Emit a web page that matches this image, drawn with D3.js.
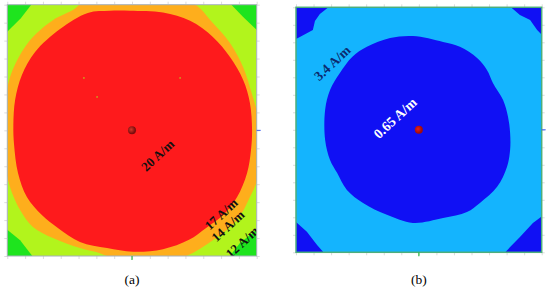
<!DOCTYPE html>
<html>
<head>
<meta charset="utf-8">
<script src="https://cdn.jsdelivr.net/npm/d3@7"></script>
<style>
  body { margin: 0; background: #fff; }
  .lbl { font-family: "Liberation Serif", "DejaVu Serif", serif; font-weight: bold; }
  .cap { font-family: "Liberation Serif", "DejaVu Serif", serif; font-size: 13.5px; }
</style>
</head>
<body>
<div id="chart"></div>
<script>
// field maps, coordinates in cm (-35..35)

// (a) contour 20 A/m (red zone edge)
var redZone = [[-0.6,33.3],[8.7,32.8],[16.3,30.5],[22.7,26.0],[27.5,20.4],[31.2,14.0],[33.1,7.6],[33.7,0.1],
  [33.4,-5.5],[32.3,-11.9],[29.5,-18.6],[25.6,-23.6],[20.8,-27.2],[16.0,-30.5],[8.7,-33.1],[0.3,-33.8],
  [-7.0,-32.8],[-14.6,-31.1],[-20.8,-27.2],[-25.3,-23.6],[-29.5,-18.6],[-32.0,-11.9],[-33.1,-4.0],[-33.3,1.5],
  [-32.8,8.5],[-30.9,15.4],[-27.2,21.8],[-20.2,28.2],[-12.4,32.7],[-6.2,33.3]];

// (a) contour 17 A/m (orange zone edge)
var orangeZone = [[-13.8,35.4],[2.2,36.0],[16.8,35.5],[22.7,29.9],[27.5,24.3],[31.2,17.6],[33.7,10.0],[35.6,2.9],
  [35.9,-5.5],[35.4,-13.0],[33.1,-18.6],[29.5,-25.0],[22.7,-30.6],[13.5,-35.6],[2.2,-36.1],[-5.3,-35.6],
  [-9.0,-34.2],[-14.6,-32.8],[-22.2,-30.0],[-27.8,-26.9],[-31.4,-22.2],[-34.8,-13.8],[-35.9,-2.7],[-35.4,8.5],
  [-34.2,14.9],[-30.6,22.4],[-26.7,27.1],[-22.2,30.7],[-16.6,33.5]];

// (a) corners below 12 A/m
var greenCorners = [
  [[-36,36],[-27.5,36],[-31.2,31.2],[-36,26.5]],
  [[26.9,36],[31.2,31.6],[36,27],[36,36]],
  [[-36,-26.9],[-31.4,-30.6],[-27.2,-36],[-36,-36]],
  [[36,-26.9],[30.3,-31.4],[26.7,-36],[36,-36]]
];

// (a) small specks
var specks = [[-13.5,14.6],[-9.8,9.3],[13.5,14.6]];

// (b) contour 0.65 A/m (inner dark zone)
var innerZone = [[-1.7,26.8],[6.9,25.1],[11.7,23.7],[16.6,20.5],[19.4,17.1],[21.1,13.4],[24.0,8.5],[25.4,3.7],
  [26.0,-0.9],[26.0,-5.8],[25.1,-10.6],[22.3,-16.3],[17.4,-20.9],[13.7,-23.5],[6.9,-25.2],[-1.7,-26.6],
  [-9.1,-24.3],[-15.9,-20.9],[-20.5,-17.2],[-23.3,-12.3],[-25.3,-8.6],[-26.7,-2.9],[-26.7,5.7],[-25.3,11.4],
  [-22.5,16.2],[-19.0,20.8],[-14.8,23.7],[-8.2,26.2]];

// (b) corners
var blueCorners = [
  [[-36,36],[-24.5,36],[-28.2,33.1],[-29.6,31.1],[-30.2,28.5],[-33.9,26.5],[-36,25.5]],
  [[25.1,36],[28.8,32.8],[31.7,31.4],[33.7,28.5],[36,26.2],[36,36]],
  [[36,-24.0],[32.5,-26.6],[28.8,-30.6],[26.0,-33.5],[23.7,-36],[36,-36]],
  [[-36,-25.5],[-31.9,-29.1],[-29.0,-32.9],[-26.3,-36],[-36,-36]]
];

var labelsA = [
  {text: "20 A/m", x: 7.2, y: -6.9},
  {text: "17 A/m", x: 25.0, y: -23.3},
  {text: "14 A/m", x: 26.9, y: -26.6},
  {text: "12 A/m", x: 30.9, y: -31.1}
];
var labelsB = [
  {text: "3.4 A/m", x: -24.7, y: 19.1},
  {text: "0.65 A/m", x: -6.8, y: 3.4}
];
var tickVals = d3.range(-35, 36, 5);

var svgWidth = 550, svgHeight = 290;
var svg = d3.select("#chart").append("svg")
    .attr("width", svgWidth)
    .attr("height", svgHeight);

var defs = svg.append("defs");
var grad = defs.append("radialGradient").attr("id", "dot").attr("cx", "40%").attr("cy", "40%");
grad.append("stop").attr("offset", "0%").attr("stop-color", "#d23a2a");
grad.append("stop").attr("offset", "100%").attr("stop-color", "#7a0d0d");
var gradB = defs.append("radialGradient").attr("id", "dotB").attr("cx", "40%").attr("cy", "40%");
gradB.append("stop").attr("offset", "0%").attr("stop-color", "#e82020");
gradB.append("stop").attr("offset", "100%").attr("stop-color", "#a00d0d");

var smooth = d3.curveCatmullRomClosed.alpha(0.5);

function panel(id, box, bg, border, borderW) {
  var x = d3.scaleLinear().domain([-35, 35]).range([box.x0, box.x1]);
  var y = d3.scaleLinear().domain([-35, 35]).range([box.y1, box.y0]);
  defs.append("clipPath").attr("id", "clip-" + id)
    .append("rect")
    .attr("x", box.x0).attr("y", box.y0)
    .attr("width", box.x1 - box.x0).attr("height", box.y1 - box.y0);
  var g = svg.append("g");
  var field = g.append("g").attr("clip-path", "url(#clip-" + id + ")");
  field.append("rect")
    .attr("x", box.x0).attr("y", box.y0)
    .attr("width", box.x1 - box.x0).attr("height", box.y1 - box.y0)
    .attr("fill", bg);

  // faint ticks all round
  var tk = function(ax) { return ax.tickValues(tickVals).tickSize(3).tickFormat(""); };
  var axes = [
    [d3.axisBottom(x), `translate(0,${box.y1})`],
    [d3.axisLeft(y), `translate(${box.x0},0)`],
    [d3.axisRight(y), `translate(${box.x1},0)`],
    [d3.axisTop(x), `translate(0,${box.y0})`]
  ];
  axes.forEach(function(a) {
    var ag = g.append("g").attr("transform", a[1]).call(tk(a[0]));
    ag.select(".domain").remove();
    ag.selectAll("line").attr("stroke", "#dcdcdc");
  });

  return {x: x, y: y, g: g, field: field, box: box, border: border, borderW: borderW};
}

function finish(p) {
  var b = p.box;
  p.g.append("rect")
    .attr("x", b.x0).attr("y", b.y0)
    .attr("width", b.x1 - b.x0).attr("height", b.y1 - b.y0)
    .attr("fill", "none")
    .attr("stroke", p.border)
    .attr("stroke-width", p.borderW);
  // centre ticks
  p.g.append("line")
    .attr("x1", p.x(0)).attr("x2", p.x(0))
    .attr("y1", b.y1).attr("y2", b.y1 + 4)
    .attr("stroke", "#2fb84a").attr("stroke-width", 1.2);
  p.g.append("line")
    .attr("x1", b.x1).attr("x2", b.x1 + 4)
    .attr("y1", p.y(0)).attr("y2", p.y(0))
    .attr("stroke", "#3a5cf0").attr("stroke-width", 1);
}

// ---- (a)
var pa = panel("a", {x0: 7.3, x1: 256.7, y0: 4.7, y1: 256}, "#b2f41c", "#a6b0bc", 1);
var lineA = d3.line().x(d => pa.x(d[0])).y(d => pa.y(d[1]));
pa.field.selectAll(".corner").data(greenCorners).enter()
  .append("path").attr("class", "corner")
  .attr("d", d => lineA.curve(d3.curveLinearClosed)(d))
  .attr("fill", "#1ee41e");
pa.field.append("path")
  .attr("d", lineA.curve(smooth)(orangeZone))
  .attr("fill", "#feae1c");
pa.field.append("path")
  .attr("d", lineA.curve(smooth)(redZone))
  .attr("fill", "#fe1a1c");
pa.field.selectAll(".speck").data(specks).enter()
  .append("circle").attr("class", "speck")
  .attr("cx", d => pa.x(d[0])).attr("cy", d => pa.y(d[1]))
  .attr("r", 0.9).attr("fill", "#c9a21e");
pa.field.append("circle")
  .attr("cx", pa.x(0)).attr("cy", pa.y(0)).attr("r", 4)
  .attr("fill", "url(#dot)");
pa.field.selectAll(".lbl").data(labelsA).enter()
  .append("text").attr("class", "lbl")
  .attr("transform", d => `translate(${pa.x(d.x)},${pa.y(d.y)}) rotate(-43)`)
  .attr("text-anchor", "middle")
  .attr("dy", "0.35em")
  .attr("font-size", "13px")
  .attr("fill", "#111")
  .text(d => d.text);
finish(pa);

// ---- (b)
var pb = panel("b", {x0: 296, x1: 541.7, y0: 7.3, y1: 252.3}, "#14b4fe", "#4cae7c", 1.5);
var lineB = d3.line().x(d => pb.x(d[0])).y(d => pb.y(d[1]));
pb.field.selectAll(".corner").data(blueCorners).enter()
  .append("path").attr("class", "corner")
  .attr("d", d => lineB.curve(d3.curveLinearClosed)(d))
  .attr("fill", "#1010f4");
pb.field.append("path")
  .attr("d", lineB.curve(smooth)(innerZone))
  .attr("fill", "#1010f4");
pb.field.append("circle")
  .attr("cx", pb.x(0)).attr("cy", pb.y(0)).attr("r", 4)
  .attr("fill", "url(#dotB)");
pb.field.selectAll(".lbl").data(labelsB).enter()
  .append("text").attr("class", "lbl")
  .attr("transform", d => `translate(${pb.x(d.x)},${pb.y(d.y)}) rotate(-43)`)
  .attr("text-anchor", "middle")
  .attr("dy", "0.35em")
  .attr("font-size", (d, i) => i == 0 ? "13.5px" : "14px")
  .attr("fill", (d, i) => i == 0 ? "#0c2a6e" : "#ffffff")
  .text(d => d.text);
finish(pb);

// captions
svg.append("text").attr("class", "cap")
  .attr("x", pa.x(0)).attr("y", 284).attr("text-anchor", "middle").text("(a)");
svg.append("text").attr("class", "cap")
  .attr("x", pb.x(0)).attr("y", 284).attr("text-anchor", "middle").text("(b)");
</script>
</body>
</html>
